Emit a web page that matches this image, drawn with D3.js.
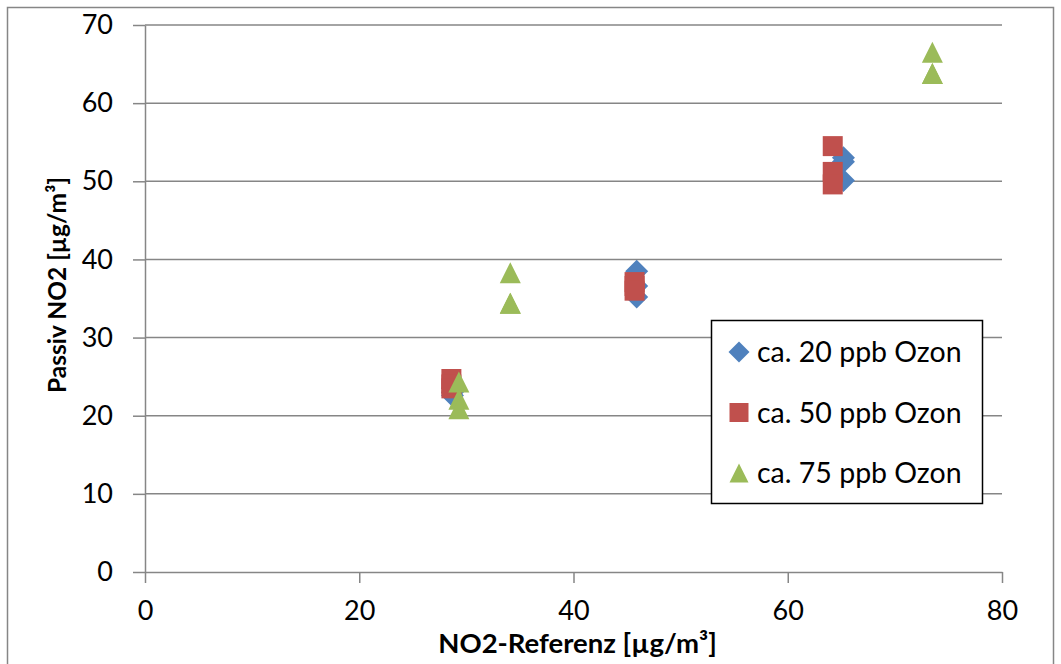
<!DOCTYPE html>
<html>
<head>
<meta charset="utf-8">
<script src="https://cdn.jsdelivr.net/npm/d3@7"></script>
<style>
  body { margin: 0; background: #fff; }
  text { font-family: Lato, "Open Sans", sans-serif; fill: #000; }
</style>
</head>
<body>
<div id="chart"></div>
<script>
// series data
var series = ['ca. 20 ppb Ozon', 'ca. 50 ppb Ozon', 'ca. 75 ppb Ozon'];

var x20 = [28.7, 28.7, 28.7, 45.9, 45.9, 45.9, 65.2, 65.2, 65.2];
var y20 = [22.6, 23.0, 23.5, 38.5, 36.6, 35.2, 53.0, 52.5, 50.1];

var x50 = [28.6, 28.6, 28.6, 45.7, 45.7, 45.7, 64.2, 64.2, 64.2];
var y50 = [24.7, 24.0, 23.5, 37.1, 36.6, 36.0, 54.5, 51.2, 49.6];

var x75 = [29.3, 29.3, 29.3, 34.1, 34.1, 34.1, 73.5, 73.5, 73.5];
var y75 = [24.3, 22.1, 20.9, 38.3, 34.4, 34.4, 66.5, 63.8, 63.8];

var xTicks = [0, 20, 40, 60, 80];
var yTicks = [0, 10, 20, 30, 40, 50, 60, 70];

var colors = ['#4F81BD', '#C0504D', '#9BBB59'];

// marker shapes, s = full width in px
var diamond = { draw: function (ctx, s) { var r = s / 2; ctx.moveTo(0, -r); ctx.lineTo(r, 0); ctx.lineTo(0, r); ctx.lineTo(-r, 0); ctx.closePath(); } };
var square = { draw: function (ctx, s) { var r = s / 2; ctx.rect(-r, -r, s, s); } };
var triangle = { draw: function (ctx, s) { var r = s / 2; ctx.moveTo(0, -r); ctx.lineTo(r, r); ctx.lineTo(-r, r); ctx.closePath(); } };
var shapes = [diamond, square, triangle];
var sizes = [23, 20, 21];

var W = 1061, H = 664;
var margin = { top: 25, left: 145, bottom: 92, right: 59 },
    width = W - margin.left - margin.right,
    height = H - margin.top - margin.bottom;

var root = d3.select('#chart').append('svg')
    .attr('width', W)
    .attr('height', H);

// outer chart border
root.append('rect')
    .attr('x', 7.5).attr('y', 7.5)
    .attr('width', 1046).attr('height', 680)
    .attr('fill', 'none')
    .attr('stroke', '#868686')
    .attr('stroke-width', 1.5);

var svg = root.append('g')
    .attr('transform', 'translate(' + margin.left + ',' + margin.top + ')');

var x = d3.scaleLinear().domain([0, 80]).range([0, width]);
var y = d3.scaleLinear().domain([0, 70]).range([height, 0]);

// horizontal gridlines
svg.selectAll('.grid')
    .data(yTicks.slice(1))
    .enter()
    .append('line')
    .attr('class', 'grid')
    .attr('x1', 0).attr('x2', width)
    .attr('y1', d => y(d)).attr('y2', d => y(d))
    .attr('stroke', '#868686')
    .attr('stroke-width', 1.5);

var xAxis = d3.axisBottom(x).tickValues(xTicks).tickSizeInner(11).tickSizeOuter(0).tickPadding(20);
var yAxis = d3.axisLeft(y).tickValues(yTicks).tickSizeInner(12).tickSizeOuter(0).tickPadding(20);

var gx = svg.append('g')
    .attr('transform', 'translate(0,' + height + ')')
    .call(xAxis);
var gy = svg.append('g').call(yAxis);

[gx, gy].forEach(g => {
    g.selectAll('path, line').attr('stroke', '#868686').attr('stroke-width', 1.5);
    g.selectAll('text').style('font-size', '27px').style('font-family', 'Lato, sans-serif').attr('fill', '#000');
});
gx.selectAll('text').attr('dy', '0.62em');

// axis titles
svg.append('text')
    .attr('x', width / 2 + 4)
    .attr('y', height + 81)
    .attr('text-anchor', 'middle')
    .style('font-size', '27.5px')
    .style('font-weight', 'bold')
    .text('NO2-Referenz [µg/m³]');

svg.append('text')
    .attr('transform', 'translate(' + (-79) + ',260) rotate(-90)')
    .attr('text-anchor', 'middle')
    .style('font-size', '24.5px')
    .style('font-weight', 'bold')
    .text('Passiv NO2 [µg/m³]');

// points
var all = [[x20, y20], [x50, y50], [x75, y75]];
all.forEach((s, i) => {
    var pts = s[0].map((v, j) => ({ x: v, y: s[1][j] }));
    svg.selectAll('.pt' + i)
        .data(pts)
        .enter()
        .append('path')
        .attr('class', 'pt' + i)
        .attr('d', d3.symbol().type(shapes[i]).size(sizes[i]))
        .attr('transform', d => 'translate(' + x(d.x) + ',' + y(d.y) + ')')
        .attr('fill', colors[i]);
});

// legend
var lg = root.append('g').attr('transform', 'translate(711,320)');
lg.append('rect')
    .attr('x', 0.5).attr('y', 0.5)
    .attr('width', 271).attr('height', 183)
    .attr('fill', '#fff')
    .attr('stroke', '#000')
    .attr('stroke-width', 1.5);

series.forEach((name, i) => {
    var ly = 32 + i * 60.5;
    lg.append('path')
        .attr('d', d3.symbol().type(shapes[i]).size(i == 0 ? 21 : 19))
        .attr('transform', 'translate(28,' + ly + ')')
        .attr('fill', colors[i]);
    lg.append('text')
        .attr('x', 46)
        .attr('y', ly)
        .attr('dy', '0.36em')
        .style('font-size', '28.5px')
        .text(name);
});
</script>
</body>
</html>
